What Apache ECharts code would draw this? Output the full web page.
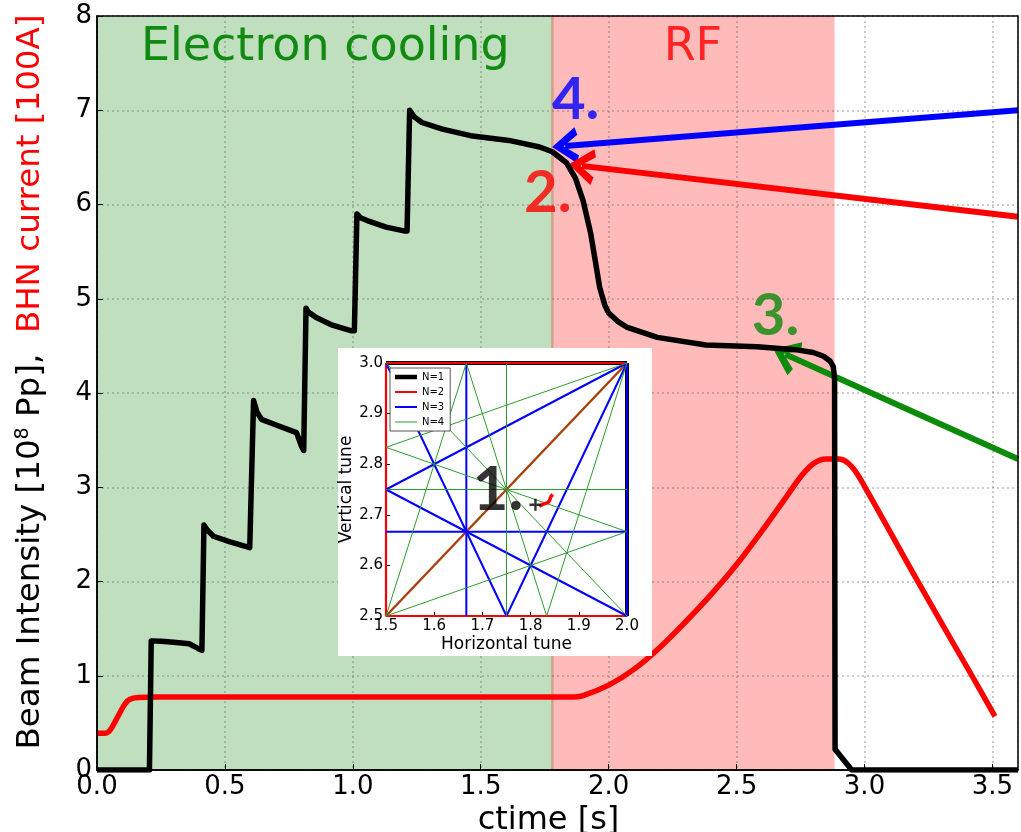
<!DOCTYPE html>
<html>
<head>
<meta charset="utf-8">
<title>Beam intensity and BHN current</title>
<script src="https://cdn.jsdelivr.net/npm/echarts@6/dist/echarts.min.js"></script>
<style>
  html, body { margin: 0; padding: 0; background: #fff; }
  #chart { width: 1021px; height: 832px; }
</style>
</head>
<body>
<div id="chart"></div>
<script>
// ---- Beam intensity [1e8 particles] versus cycle time [s]
const beamTime = [0, 0.205, 0.212, 0.25, 0.30, 0.36, 0.395, 0.41, 0.418, 0.43, 0.455, 0.52, 0.597,
  0.604, 0.612, 0.625, 0.643, 0.70, 0.78, 0.80, 0.808, 0.817, 0.826, 0.857, 0.92, 0.995, 1.006,
  1.016, 1.03, 1.065, 1.13, 1.20, 1.212, 1.222, 1.24, 1.27, 1.35, 1.46, 1.61, 1.73, 1.78, 1.836,
  1.87, 1.90, 1.93, 1.965, 1.985, 2.00, 2.035, 2.07, 2.19, 2.38, 2.58, 2.73, 2.80, 2.84, 2.865,
  2.878, 2.883, 2.885, 2.95, 3.6];
const beamIntensity = [0, 0, 1.37, 1.365, 1.355, 1.34, 1.29, 1.27, 2.60, 2.55, 2.48, 2.42, 2.36,
  2.36, 3.92, 3.80, 3.72, 3.66, 3.58, 3.43, 3.39, 4.90, 4.86, 4.80, 4.72, 4.66, 4.66,
  5.90, 5.86, 5.82, 5.76, 5.72, 5.72, 7.00, 6.93, 6.87, 6.80, 6.73, 6.68, 6.61, 6.56, 6.44,
  6.28, 6.04, 5.69, 5.12, 4.93, 4.85, 4.76, 4.70, 4.59, 4.51, 4.49, 4.46, 4.43, 4.39, 4.34,
  4.28, 4.15, 0.22, 0, 0];

// ---- BHN magnet current [100 A] versus cycle time [s]
const bhnTime = [0, 0.03, 0.05, 0.076, 0.10, 0.118, 0.138, 0.16, 0.23, 1.0, 1.80, 1.85, 1.90,
  2.0, 2.1, 2.2, 2.3, 2.4, 2.5, 2.6, 2.7, 2.75, 2.8, 2.85, 2.9, 2.95, 3.0, 3.2, 3.42, 3.51];
const bhnCurrent = [0.39, 0.39, 0.42, 0.54, 0.66, 0.73, 0.76, 0.77, 0.775, 0.775, 0.775, 0.775,
  0.79, 0.90, 1.07, 1.30, 1.57, 1.86, 2.18, 2.54, 2.92, 3.11, 3.25, 3.30, 3.30, 3.22, 3.01,
  2.04, 1.0, 0.57];

// ---- Cycle phases (shaded bands)
const phaseNames = ['Electron cooling', 'RF'];
const phaseStart = [0, 1.775];
const phaseEnd = [1.785, 2.883];
const phaseFill = ['rgba(0,128,0,0.25)', 'rgba(255,0,0,0.27)'];
const phaseText = ['#118a11', '#ff2424'];

// ---- Numbered call-outs and their arrows (start at the right border, tip on the curve)
const noteText = ['4.', '2.', '3.'];
const noteAt = [[1.871, 7.11], [1.762, 6.12], [2.652, 4.81]];
const noteColor = ['#0000ff', '#ff0000', '#0b8a0b'];
const arrowFrom = [[3.6, 7.0], [3.6, 5.87], [3.6, 3.30]];
const arrowTo = [[1.83, 6.62], [1.895, 6.41], [2.69, 4.41]];

// ---- Axis ticks
const xTickStep = 0.5, xMax = 3.6;
const yTickStep = 1, yMax = 8;

// ---- Tune diagram: resonance lines of order N=1..4 (segments inside [1.5,2]x[2.5,3])
const resN1 = [[[2.0, 2.5], [2.0, 3.0]], [[1.5, 3.0], [2.0, 3.0]]];
const resN2 = [[[1.5, 2.5], [1.5, 3.0]], [[1.5, 2.5], [2.0, 2.5]], [[1.5, 3.0], [2.0, 3.0]]];
const resN2diag = [[[1.5, 2.5], [2.0, 3.0]]];
const resN3 = [[[5 / 3, 2.5], [5 / 3, 3.0]], [[1.5, 8 / 3], [2.0, 8 / 3]], [[1.5, 2.75], [2.0, 3.0]],
  [[1.5, 2.75], [2.0, 2.5]], [[1.5, 3.0], [1.75, 2.5]], [[1.75, 2.5], [2.0, 3.0]], [[2.0, 2.5], [2.0, 3.0]]];
const resN4 = [[[1.75, 2.5], [1.75, 3.0]], [[1.5, 2.75], [2.0, 2.75]], [[1.5, 2.5], [5 / 3, 3.0]],
  [[1.5, 2.5], [2.0, 8 / 3]], [[1.5, 17 / 6], [2.0, 3.0]], [[1.5, 17 / 6], [2.0, 8 / 3]],
  [[5 / 3, 3.0], [11 / 6, 2.5]], [[11 / 6, 2.5], [2.0, 3.0]], [[1.5, 3.0], [2.0, 2.5]]];
const tuneQx = [1.818, 1.824, 1.829, 1.833, 1.836, 1.839, 1.841, 1.843, 1.846];
const tuneQy = [2.717, 2.720, 2.722, 2.721, 2.724, 2.728, 2.733, 2.737, 2.740];
const workPoint = [[1.81, 2.72]];
const insetNote = [[1.732, 2.749]];

const FONT = "'DejaVu Sans', 'Noto Sans', sans-serif";
const NOTE_FONT = "Lato, 'Open Sans', 'Liberation Sans', sans-serif";

const gridDots = { show: true, lineStyle: { color: 'rgba(90,90,90,0.42)', width: 1.5, type: [2, 3] } };
const fmt1 = v => v.toFixed(1);

// legend key: a horizontal bar of the given thickness inside a 22x12 box
function keyIcon(t) {
  const a = 6 - t / 2, b = 6 + t / 2;
  return `path://M0,0 L22,0 L22,0.01 Z M0,${a} L22,${a} L22,${b} L0,${b} Z M0,12 L22,11.99 L22,12 Z`;
}

// resonance segment series in the tune inset
function segSeries(segs, name, color, width) {
  return segs.map(s => ({
    type: 'line', name: name, xAxisIndex: 1, yAxisIndex: 1,
    data: s, symbol: 'none', silent: true, z: 12,
    lineStyle: { color: color, width: width }, itemStyle: { color: color }
  }));
}

// open arrowhead, pointing along the line
const chevron = 'path://M0,10 L6,0 L12,10 L9.4,11 L6,4.8 L2.6,11 Z';

const series = [];

// shaded phases
series.push({
  type: 'line', name: 'phases', data: [], silent: true,
  markArea: {
    silent: true,
    data: phaseNames.map((n, i) => [
      { name: n, xAxis: phaseStart[i], itemStyle: { color: phaseFill[i] },
        label: { color: phaseText[i] } },
      { xAxis: phaseEnd[i] }
    ]),
    label: { show: true, position: 'insideTop', distance: 9, fontSize: 46, fontFamily: FONT }
  }
});

// curves
series.push({
  type: 'line', name: 'BHN current', data: bhnTime.map((t, i) => [t, bhnCurrent[i]]),
  symbol: 'none', smooth: 0.35, z: 4,
  lineStyle: { color: '#ff0000', width: 5.5 }
});
series.push({
  type: 'line', name: 'Beam intensity', data: beamTime.map((t, i) => [t, beamIntensity[i]]),
  symbol: 'none', z: 5,
  lineStyle: { color: '#000', width: 5.5, join: 'round' }
});

// arrows + numbered notes
series.push({
  type: 'line', name: 'arrows', data: [], silent: true,
  markLine: {
    silent: true, animation: false,
    label: { show: false },
    data: arrowFrom.map((f, i) => [
      { coord: f, symbol: 'none', lineStyle: { color: noteColor[i], width: 6, type: 'solid' } },
      { coord: arrowTo[i], symbol: chevron, symbolSize: [36, 26] }
    ])
  }
});
series.push({
  type: 'scatter', name: 'notes', silent: true, symbolSize: 0, z: 6,
  data: noteAt.map((p, i) => ({
    value: p,
    label: { show: true, position: 'inside', formatter: noteText[i], color: noteColor[i],
      fontSize: 58, fontWeight: 'bold', fontFamily: NOTE_FONT, textBorderWidth: 0 }
  }))
});

// tune inset
series.push(...segSeries(resN1, 'N=1', '#000', 4));
series.push(...segSeries(resN2, 'N=2', '#ff0000', 2.2));
series.push(...segSeries(resN2diag, 'N=2', '#a8400c', 2.4));
series.push(...segSeries(resN3, 'N=3', '#0000ff', 2));
series.push(...segSeries(resN4, 'N=4', '#2e9a2e', 1));
series.push({
  type: 'line', name: 'tunes', xAxisIndex: 1, yAxisIndex: 1, z: 13, silent: true,
  data: tuneQx.map((q, i) => [q, tuneQy[i]]), symbol: 'none',
  lineStyle: { color: '#ff0000', width: 3.5 }
});
series.push({
  type: 'scatter', name: 'working point', xAxisIndex: 1, yAxisIndex: 1, z: 13, silent: true,
  data: workPoint, symbol: 'path://M4,0 L6,0 L6,4 L10,4 L10,6 L6,6 L6,10 L4,10 L4,6 L0,6 L0,4 L4,4 Z',
  symbolSize: 12, itemStyle: { color: '#000' }
});
series.push({
  type: 'scatter', name: 'inset note', xAxisIndex: 1, yAxisIndex: 1, z: 14, silent: true,
  data: insetNote, symbolSize: 0,
  label: { show: true, position: 'inside', formatter: '1.', color: '#000', fontSize: 62,
    fontWeight: 'bold', fontFamily: NOTE_FONT, textBorderWidth: 0 }
});

const option = {
  animation: false,
  backgroundColor: '#fff',
  grid: [
    { left: 97, top: 16, right: 3, bottom: 62, show: true, borderColor: '#000', borderWidth: 1.5,
      backgroundColor: 'transparent', z: 6, outerBoundsMode: 'none', containLabel: false },
    { left: 338, top: 348, width: 314, height: 308, show: true, backgroundColor: '#fff',
      borderWidth: 0, z: 10, outerBoundsMode: 'none', containLabel: false },
    { left: 386, top: 363, width: 241, height: 253, show: true, backgroundColor: 'transparent',
      borderColor: '#000', borderWidth: 1, z: 11, outerBoundsMode: 'none', containLabel: false }
  ],
  legend: {
    data: [
      { name: 'N=1', icon: keyIcon(4.5) },
      { name: 'N=2', icon: keyIcon(2.2) },
      { name: 'N=3', icon: keyIcon(2) },
      { name: 'N=4', icon: keyIcon(1.2) }
    ],
    selectedMode: false,
    orient: 'vertical', left: 390, top: 368, z: 15,
    itemWidth: 22, itemHeight: 12, itemGap: 3, padding: [3, 6, 3, 5],
    backgroundColor: '#fff', borderColor: '#555', borderWidth: 1,
    textStyle: { fontSize: 10, fontFamily: FONT, color: '#000' }
  },
  xAxis: [
    {
      type: 'value', gridIndex: 0, min: 0, max: xMax, interval: xTickStep, z: 3,
      name: 'ctime [s]', nameLocation: 'middle', nameGap: 29,
      nameTextStyle: { fontSize: 32, fontFamily: FONT, color: '#000', padding: [0, 18, 0, 0] },
      axisLine: { lineStyle: { color: '#000', width: 1.5 } },
      axisTick: { inside: true, length: 6, lineStyle: { color: '#000' } },
      axisLabel: { fontSize: 26, fontFamily: FONT, color: '#000', margin: 4, showMaxLabel: false,
        formatter: v => (Math.abs(v / xTickStep - Math.round(v / xTickStep)) < 1e-6 ? fmt1(v) : '') },
      splitLine: gridDots
    },
    {
      type: 'value', gridIndex: 2, min: 1.5, max: 2.0, interval: 0.1, z: 12,
      name: 'Horizontal tune', nameLocation: 'middle', nameGap: 20,
      nameTextStyle: { fontSize: 17, fontFamily: FONT, color: '#000' },
      axisLine: { lineStyle: { color: '#000', width: 1 } },
      axisTick: { inside: true, length: 4, lineStyle: { color: '#000' } },
      axisLabel: { fontSize: 15, fontFamily: FONT, color: '#000', margin: 3, formatter: fmt1 },
      splitLine: { show: false }
    }
  ],
  yAxis: [
    {
      type: 'value', gridIndex: 0, min: 0, max: yMax, interval: yTickStep, z: 3,
      name: '{k|Beam Intensity [10}{s|8}{k| Pp],  }{r|BHN current [100A]}',
      nameLocation: 'middle', nameGap: 50, nameRotate: 90,
      nameTextStyle: {
        padding: [0, 0, 0, 22],
        rich: {
          k: { fontSize: 32.5, fontFamily: FONT, color: '#000' },
          s: { fontSize: 19, fontFamily: FONT, color: '#000', verticalAlign: 'top' },
          r: { fontSize: 32.5, fontFamily: FONT, color: '#ff0000' }
        }
      },
      axisLine: { show: true, lineStyle: { color: '#000', width: 1.5 } },
      axisTick: { show: true, inside: true, length: 6, lineStyle: { color: '#000' } },
      axisLabel: { fontSize: 26, fontFamily: FONT, color: '#000', margin: 5 },
      splitLine: gridDots
    },
    {
      type: 'value', gridIndex: 2, min: 2.5, max: 3.0, interval: 0.1, z: 12,
      name: 'Vertical tune', nameLocation: 'middle', nameGap: 27, nameRotate: 90,
      nameTextStyle: { fontSize: 17, fontFamily: FONT, color: '#000' },
      axisLine: { show: true, lineStyle: { color: '#000', width: 1 } },
      axisTick: { show: true, inside: true, length: 4, lineStyle: { color: '#000' } },
      axisLabel: { fontSize: 15, fontFamily: FONT, color: '#000', margin: 3, formatter: fmt1 },
      splitLine: { show: false }
    }
  ],
  series: series
};

const chart = echarts.init(document.getElementById('chart'), null, { renderer: 'canvas' });
chart.setOption(option);
</script>
</body>
</html>
